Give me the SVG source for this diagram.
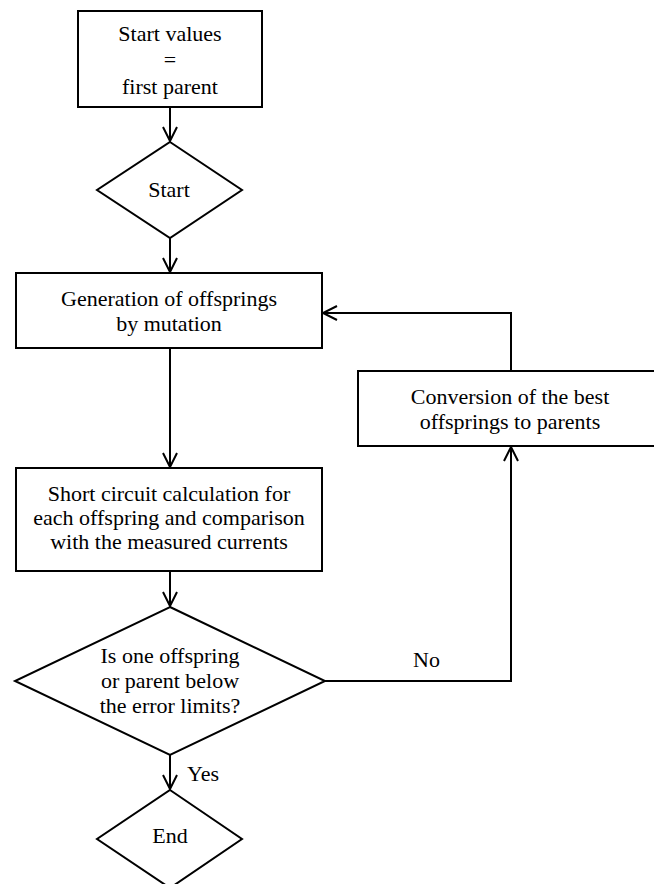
<svg xmlns="http://www.w3.org/2000/svg" width="654" height="884" viewBox="0 0 654 884">
<defs>
<marker id="arr" markerUnits="userSpaceOnUse" markerWidth="20" markerHeight="20" viewBox="-16 -10 20 20" refX="0" refY="0" orient="auto">
<path d="M-14,-7 L0,0 L-14,7" fill="none" stroke="#000" stroke-width="2"/>
</marker>
</defs>
<style>
.box{fill:#fff;stroke:#000;stroke-width:2}
.t{font-family:"Liberation Serif","Times New Roman",serif;font-size:22px;fill:#000;text-anchor:middle}
.tl{font-family:"Liberation Serif","Times New Roman",serif;font-size:22px;fill:#000}
.c{fill:none;stroke:#000;stroke-width:2;marker-end:url(#arr)}
</style>
<rect width="654" height="884" fill="#fff"/>
<g id="connectors">
<path class="c" d="M170,107 L170,141"/>
<path class="c" d="M170,238 L170,272"/>
<path class="c" d="M170,348 L170,467"/>
<path class="c" d="M170,571 L170,606"/>
<path class="c" d="M170,755 L170,789"/>
<path class="c" d="M325,681 L511,681 L511,447"/>
<path class="c" d="M511,371 L511,313 L323,313"/>
</g>
<g id="start-values">
<rect class="box" x="78" y="11" width="184" height="96"/>
<text class="t" x="170" y="41">Start values</text>
<text class="t" x="170" y="67">=</text>
<text class="t" x="170" y="94">first parent</text>
</g>
<g id="start">
<polygon class="box" points="170,142 242,190 170,238 97,190"/>
<text class="t" x="169" y="197">Start</text>
</g>
<g id="generation">
<rect class="box" x="16" y="273" width="306" height="75"/>
<text class="t" x="169" y="306">Generation of offsprings</text>
<text class="t" x="169" y="331">by mutation</text>
</g>
<g id="conversion">
<rect class="box" x="358" y="371" width="304" height="75"/>
<text class="t" x="510" y="404">Conversion of the best</text>
<text class="t" x="510" y="429">offsprings to parents</text>
</g>
<g id="short-circuit">
<rect class="box" x="16" y="468" width="306" height="103"/>
<text class="t" x="169" y="501">Short circuit calculation for</text>
<text class="t" x="169" y="525">each offspring and comparison</text>
<text class="t" x="169" y="549">with the measured currents</text>
</g>
<g id="decision">
<polygon class="box" points="170,607 325,681 170,755 15,681"/>
<text class="t" x="170" y="663">Is one offspring</text>
<text class="t" x="170" y="688">or parent below</text>
<text class="t" x="170" y="713">the error limits?</text>
</g>
<g id="labels">
<text class="tl" x="413" y="667">No</text>
<text class="tl" x="187" y="781">Yes</text>
</g>
<g id="end">
<polygon class="box" points="170,790 242,839 170,888 97,839"/>
<text class="t" x="170" y="843">End</text>
</g>
</svg>
